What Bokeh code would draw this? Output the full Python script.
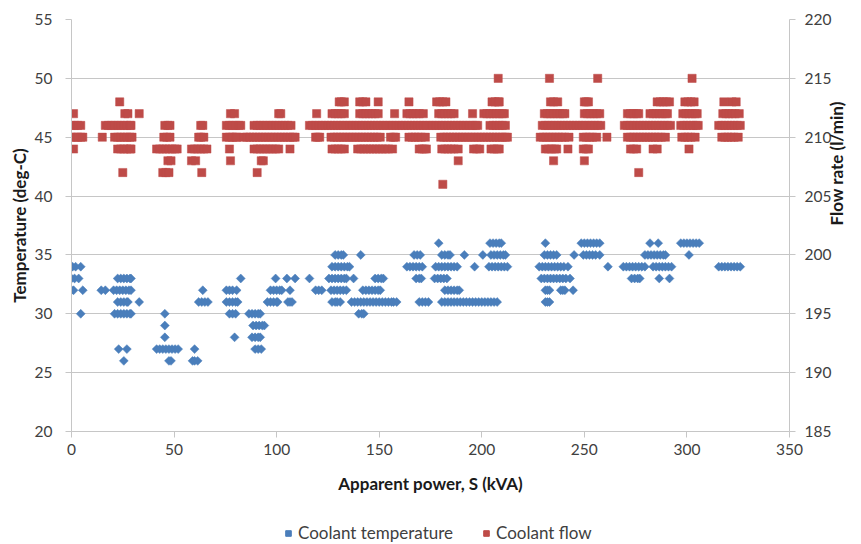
import math
from bokeh.plotting import figure
from bokeh.layouts import column
from bokeh.models import Range1d, LinearAxis, Legend, LegendItem, FixedTicker
from bokeh.embed import file_html
from bokeh.resources import INLINE

# ---------------- data ----------------
x_ticks = [0, 50, 100, 150, 200, 250, 300, 350]
temp_ticks = [20, 25, 30, 35, 40, 45, 50, 55]
flow_ticks = [185, 190, 195, 200, 205, 210, 215, 220]

# Coolant temperature (deg-C): apparent power values (kVA) at each temperature level
t36 = [179, 204, 205.5, 207, 208.5, 209.5, 231, 248.5, 250, 251.5, 253, 254.5, 256, 257.5,
       282, 286, 297, 298.5, 300, 301.5, 303, 304.5, 306]
t35 = [128.5, 130, 131.5, 132.5, 141, 167, 168.5, 170, 180.5, 182, 183.5, 184.5, 191.5, 200.5,
       204.5, 206, 207.5, 209, 210.5, 211.5, 230.5, 232, 233.5, 235, 236.5, 245,
       249.5, 251, 252.5, 254, 255.5, 257.5, 279.5, 281, 282.5, 284, 285.5, 287, 288.5, 289.5, 301]
t34 = [0.5, 2, 4.5, 127, 128.5, 130, 131.5, 133, 134.5, 135.5, 163.5, 165, 166.5, 168, 169.5, 171,
       177.5, 179, 180.5, 182, 183.5, 185, 186.5, 188, 196.5, 203.5, 205, 206.5, 208, 209.5, 211, 212.5,
       228, 229.5, 231, 232.5, 234, 235.5, 237, 238.5, 240, 242, 261.5,
       269, 270.5, 272, 273.5, 275, 276.5, 278, 279.5, 283.5, 285, 286.5, 288, 289.5, 291, 292.5,
       315.5, 317, 318.5, 320, 321.5, 323, 324.5, 326]
t33 = [0, 1.5, 3.5, 22.5, 24, 25.5, 27, 28.5, 29, 82.5, 99.5, 105, 109, 116,
       125.5, 127, 128.5, 130, 131.5, 133, 134, 137.5, 148, 149.5, 151, 152, 168, 169.5, 170.5,
       177, 178.5, 180, 181.5, 183, 229, 230.5, 232, 233.5, 235, 236.5, 238, 239.5, 241, 243,
       273, 274.5, 276, 277, 286.5, 291.5]
t32 = [0, 1, 5.5, 14.5, 16.5, 20.5, 22, 23.5, 25, 26.5, 28, 29, 64, 75.5, 77, 78.5, 80.5,
       97, 98.5, 100, 101.5, 102.5, 106.5, 119, 120.5, 122, 126.5, 128, 129.5, 131, 132.5, 134,
       142, 143.5, 145, 146.5, 148, 149.5, 150.5, 182, 183.5, 185, 186.5, 188, 189,
       231, 232, 233, 238.5, 239.5, 240.5, 244.5]
t31 = [22.5, 24, 25.5, 27, 27.5, 33, 62, 63.5, 65, 66.5, 75.5, 77, 78.5, 80, 81,
       95.5, 97, 98.5, 100, 100.5, 105.5, 106.5, 107.5, 127, 128.5, 129.5, 131,
       136.5, 138, 139.5, 141, 142.5, 144, 145.5, 147, 148.5, 150, 151.5, 153, 154.5, 156, 157, 158.5,
       169.5, 171, 172.5, 174, 180.5, 182, 183.5, 185, 186.5, 188, 189.5, 191, 192.5, 194, 195.5,
       197, 198.5, 200, 201.5, 203, 204.5, 206, 207.5, 231, 232, 233]
t30 = [4.5, 21, 22.5, 24, 25.5, 27, 28.5, 29, 45.5, 77, 78.5, 80, 86.5, 88, 89.5, 91, 92,
       140, 141.5, 142.5]
t29 = [45.5, 88.5, 90, 91.5, 93, 94]
t28 = [45.5, 79.5, 88, 89.5, 91, 92]
t27 = [23, 27, 41.5, 43, 44.5, 46, 47.5, 49, 50.5, 52, 60, 89.5, 91, 92.5]
t26 = [25.5, 47.5, 48.5, 59, 60, 61.5]

# Coolant flow (l/min): apparent power values (kVA) at each flow level
f215 = [208, 233, 256.5, 302.5]
f213 = [23.5, 130.5, 131.5, 133, 140.5, 142, 143.5, 149.5, 164.5, 178, 179.5, 181, 182.5,
        205, 206.5, 208, 208.5, 233.5, 235, 237, 250, 251, 252, 285.5, 287, 288.5, 290, 291.5,
        299, 300.5, 302, 303.5, 318, 322, 324]
f212 = [1, 26, 27.5, 33, 77.5, 79.5, 101, 102, 119.5, 127, 128.5, 130, 131.5, 133,
        140.5, 142, 143.5, 145, 146.5, 148, 149.5, 157.5, 163.5, 165, 166.5, 168, 169.5, 171.5,
        179, 180.5, 182, 183.5, 185, 186.5, 195.5, 201, 202.5, 204, 205.5, 207, 208.5, 210, 211,
        230.5, 232, 233.5, 235, 236.5, 238, 239.5, 240.5, 250, 251.5, 253, 254.5, 256, 257.5,
        271, 272.5, 274, 275.5, 276.5, 282, 283.5, 285, 286.5, 288, 289.5, 290.5,
        298, 299.5, 301, 302.5, 304, 305, 317.5, 319, 320.5, 322, 323.5, 325.5]
f211 = [0, 1.5, 3, 4.5, 16.5, 18, 19.5, 21, 22.5, 24, 25.5, 27, 28.5, 29, 45.5, 47, 48, 63, 64,
        75.5, 77, 78.5, 80, 81.5, 82.5, 89, 90.5, 92, 93.5, 95, 96.5, 98, 99.5, 101, 102.5, 104,
        105.5, 107, 116, 117.5, 119, 120.5, 122, 123.5, 125, 126.5, 128, 129.5, 131, 132.5, 134,
        135.5, 137, 138.5, 140, 141.5, 143, 144.5, 146, 147.5, 149, 150.5, 152, 153.5, 155, 156.5,
        158, 159.5, 161, 162.5, 164, 165.5, 167, 168.5, 170, 171.5, 173, 174.5, 176, 177.5, 179,
        180.5, 182, 183.5, 185, 186.5, 188, 189.5, 191, 192.5, 194, 195.5, 197, 198,
        204, 205.5, 207, 208.5, 210, 211.5, 229.5, 231, 232.5, 234, 235.5, 237, 238.5, 240,
        241.5, 243, 244.5, 246, 247.5, 249, 250.5, 252, 253.5, 255, 256.5, 258,
        269.5, 271, 272.5, 274, 275.5, 277, 278.5, 280, 281.5, 283, 284.5, 286, 287.5, 289,
        290.5, 292, 297, 298.5, 300, 301.5, 303, 304.5, 305.5,
        315.5, 317, 318.5, 320, 321.5, 323, 324.5, 326]
f210 = [0, 1.5, 3, 4.5, 5.5, 15, 21, 22.5, 24, 25.5, 27, 28.5, 29.5, 45, 46.5, 48, 62, 63, 64.5,
        75.5, 77, 78.5, 80, 80.5, 84, 85.5, 87, 88.5, 90, 91.5, 93, 94.5, 96, 97.5, 99, 100.5,
        102, 103.5, 105, 106.5, 108, 109, 119, 120, 121,
        126.5, 128, 129.5, 131, 132.5, 134, 135.5, 137, 138.5, 140, 141.5, 143, 144.5, 146,
        147.5, 149, 150.5, 155.5, 157, 158, 164.5, 166, 167.5, 169, 170.5, 172.5,
        180, 181.5, 183, 184.5, 186, 187.5, 189, 190.5, 192, 193.5, 195, 196.5, 198, 199.5,
        201, 202.5, 204, 205.5, 207, 208.5, 210, 211.5, 212.5,
        228.5, 230, 231.5, 233, 234.5, 236, 237.5, 239, 240.5, 242.5, 249.5, 251, 252.5, 254, 256,
        261, 271, 272.5, 274, 275.5, 277, 278.5, 280, 281.5, 283, 284.5, 286, 287.5, 289.5,
        297.5, 299, 300.5, 302, 304, 317, 318.5, 320, 321.5, 323, 325]
f209 = [1, 22.5, 24, 25.5, 27, 28.5, 29, 41.5, 43, 44.5, 46, 47.5, 49, 50.5, 51.5,
        58.5, 60, 61.5, 63, 64.5, 66, 77, 89, 90.5, 92, 93.5, 95, 96.5, 98, 99.5, 101, 106.5,
        127, 128.5, 130, 131.5, 133, 139.5, 141, 142.5, 144, 145.5, 147, 148.5, 150, 151.5,
        153, 154.5, 156.5, 169.5, 171, 172, 173, 180.5, 182, 183.5, 185, 186.5, 188.5,
        196, 197.5, 199, 204.5, 206, 207.5, 208.5, 231, 232.5, 234, 235.5, 236.5, 242,
        249.5, 251, 252, 272.5, 274, 275.5, 283.5, 285.5, 301]
f208 = [47, 48.5, 58.5, 60.5, 77.5, 92.5, 93.5, 188.5, 235, 250]
f207 = [25, 44.5, 46, 47.5, 63.5, 90.5, 276.5]
f206 = [181]

temp_rows = [(36, t36), (35, t35), (34, t34), (33, t33), (32, t32), (31, t31),
             (30, t30), (29, t29), (28, t28), (27, t27), (26, t26)]
flow_rows = [(215, f215), (213, f213), (212, f212), (211, f211), (210, f210),
             (209, f209), (208, f208), (207, f207), (206, f206)]

temp_x = [x for lvl, xs in temp_rows for x in xs]
temp_y = [lvl for lvl, xs in temp_rows for x in xs]
flow_x = [x for lvl, xs in flow_rows for x in xs]
flow_y = [lvl for lvl, xs in flow_rows for x in xs]

# ---------------- styling ----------------
BLUE = "#4a7ebb"
RED = "#be4b48"
GRID = "#c6c6c6"
TICK_TXT = "#404040"
FONT = "Lato"

p = figure(width=861, height=497, output_backend="svg", toolbar_location=None,
           x_range=Range1d(0, 350), y_range=Range1d(20, 55),
           min_border_left=71, min_border_right=72, min_border_top=19, min_border_bottom=66)
p.extra_y_ranges = {"flow": Range1d(185, 220)}
p.outline_line_color = None
p.background_fill_color = "white"
p.border_fill_color = "white"

p.xgrid.grid_line_color = None
p.ygrid.grid_line_color = GRID
p.ygrid.grid_line_width = 1

r_temp = p.scatter(temp_x, temp_y, marker="square", angle=0.785398, size=6.3,
                   fill_color=BLUE, line_color=BLUE, line_width=0.5)
r_flow = p.scatter(flow_x, flow_y, y_range_name="flow", marker="square", size=8.2,
                   fill_color=RED, line_color=RED, line_width=0.5)

def style_axis(ax, label):
    ax.axis_label = label
    ax.axis_label_text_font = FONT
    ax.axis_label_text_font_style = "bold"
    ax.axis_label_text_font_size = "17px"
    ax.axis_label_text_color = "#1a1a1a"
    ax.major_label_text_font = FONT
    ax.major_label_text_font_size = "15.5px"
    ax.major_label_text_color = TICK_TXT
    ax.axis_line_color = GRID
    ax.major_tick_line_color = GRID
    ax.major_tick_in = 0
    ax.major_tick_out = 6
    ax.minor_tick_line_color = None

style_axis(p.xaxis[0], "Apparent power, S (kVA)")
p.xaxis[0].ticker = FixedTicker(ticks=x_ticks)
p.xaxis[0].major_label_standoff = 6
p.xaxis[0].axis_label_standoff = 15

style_axis(p.yaxis[0], "Temperature (deg-C)")
p.yaxis[0].ticker = FixedTicker(ticks=temp_ticks)
p.yaxis[0].major_label_standoff = 13
p.yaxis[0].axis_label_standoff = 2

ax_r = LinearAxis(y_range_name="flow")
style_axis(ax_r, "Flow rate (l/min)")
ax_r.ticker = FixedTicker(ticks=flow_ticks)
ax_r.major_label_standoff = 9
ax_r.axis_label_standoff = 2
try:
    ax_r.axis_label_orientation = math.pi / 2
except AttributeError:
    pass
p.add_layout(ax_r, "right")

# ---------------- legend strip below the chart ----------------
leg = figure(width=861, height=47, output_backend="svg", toolbar_location=None,
             x_range=Range1d(0, 1), y_range=Range1d(0, 1), min_border=0)
leg.xaxis.visible = False
leg.yaxis.visible = False
leg.xgrid.grid_line_color = None
leg.ygrid.grid_line_color = None
leg.outline_line_color = None
# legend-only glyphs (NaN positions: nothing is drawn in the strip itself)
lg_temp = leg.scatter([math.nan], [math.nan], marker="square", angle=0.785398, size=6.3,
                      fill_color=BLUE, line_color=BLUE)
lg_flow = leg.scatter([math.nan], [math.nan], marker="square", size=8.2,
                      fill_color=RED, line_color=RED)

legend = Legend(items=[LegendItem(label="Coolant temperature", renderers=[lg_temp]),
                       LegendItem(label="Coolant flow", renderers=[lg_flow])],
                orientation="horizontal", location=(210, 1),
                label_text_font=FONT, label_text_font_size="17px", label_text_color=TICK_TXT,
                glyph_width=14, glyph_height=14, label_standoff=3, spacing=26,
                padding=0, margin=0, border_line_color=None, background_fill_alpha=0)
leg.add_layout(legend, "center")

page = column(p, leg, spacing=0)
open("out.html", "w").write(file_html(page, INLINE))
